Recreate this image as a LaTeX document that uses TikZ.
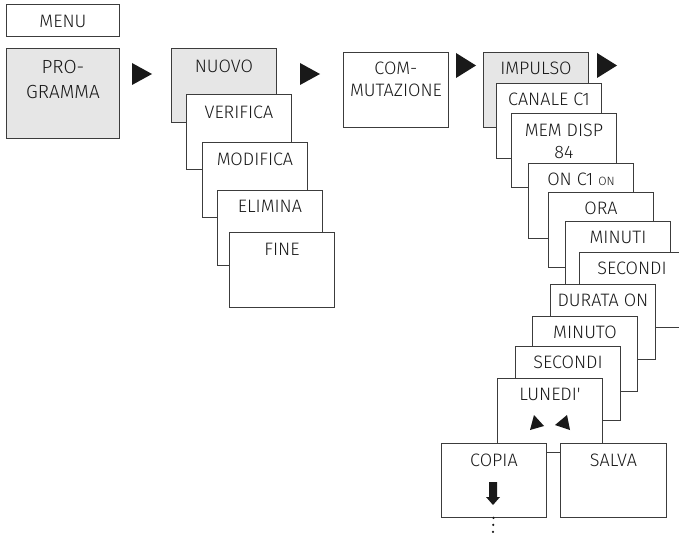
\documentclass[tikz,border=0pt]{standalone}
\usepackage{fontspec}
\setmainfont{Fira Sans}[UprightFont=* Light]
\usetikzlibrary{calc}

\definecolor{boxgray}{RGB}{230,230,230}
\definecolor{boxline}{RGB}{60,60,60}

\tikzset{
  item/.style={draw=boxline, line width=0.9pt, fill=white, anchor=north west,
    inner sep=0pt, minimum width=105pt, minimum height=75pt},
  grayitem/.style={item, fill=boxgray},
  lbl/.style={anchor=north, inner sep=0pt, align=center, text=black!90,
    font=\fontsize{18}{22}\selectfont},
  marker/.style={fill=black!90},
  dots/.style={draw=black!90, line width=2.4pt, line cap=round, dash pattern=on 0pt off 7pt},
}

\begin{document}
\begin{tikzpicture}[x=1pt, y=-1pt]
    \useasboundingbox (0,0) rectangle (679,532);

    \node[item, minimum width=113pt, minimum height=32pt] (menu) at (6,4) {};
    \node[lbl] (menu-t) at ([yshift=-10.5pt]menu.north) {MENU};

    \node[grayitem, minimum width=113pt, minimum height=90pt] (prog) at (6,48) {};
    \node[lbl, font=\fontsize{19}{25}\selectfont] (prog-t) at ([yshift=-12.5pt]prog.north) {PRO-\\GRAMMA};

    \fill[marker] (132,63) -- (152,74) -- (132,85) -- cycle;

    \node[grayitem, minimum height=74pt] (nuovo) at (171,48) {};
    \node[lbl] (nuovo-t) at ([yshift=-11.5pt]nuovo.north) {NUOVO};
    \node[item] (verifica) at (186,94) {};
    \node[lbl] (verifica-t) at ([yshift=-12pt]verifica.north) {VERIFICA};
    \node[item] (modifica) at (202,142) {};
    \node[lbl] (modifica-t) at ([yshift=-11pt]modifica.north) {MODIFICA};
    \node[item] (elimina) at (217,190) {};
    \node[lbl] (elimina-t) at ([yshift=-10pt]elimina.north) {ELIMINA};
    \node[item] (fine) at (229,232) {};
    \node[lbl] (fine-t) at ([yshift=-11pt]fine.north) {FINE};

    \fill[marker] (300,63) -- (320,74) -- (300,85) -- cycle;

    \node[item] (commut) at (343,52) {};
    \node[lbl] (commut-t) at ([yshift=-10pt]commut.north) {COM-\\MUTAZIONE};

    \fill[marker] (456,53) -- (476,65.5) -- (456,78) -- cycle;

    \node[grayitem] (impulso) at (483,52) {};
    \node[lbl] (impulso-t) at ([yshift=-10pt]impulso.north) {IMPULSO};

    \fill[marker] (597,53) -- (617,65.5) -- (597,78) -- cycle;

    \node[item] (canale) at (496,83) {};
    \node[lbl] (canale-t) at ([yshift=-10pt]canale.north) {CANALE C1};
    \node[item, minimum height=74pt] (memdisp) at (511,113) {};
    \node[lbl] (memdisp-t) at ([yshift=-11pt]memdisp.north) {MEM DISP\\84};
    \node[item] (onc) at (528,163) {};
    \node[lbl] (onc-t) at ([yshift=-10pt]onc.north) {ON C1 {\fontsize{12}{14}\selectfont ON}};
    \node[item] (ora) at (548,192) {};
    \node[lbl] (ora-t) at ([yshift=-10pt]ora.north) {ORA};
    \node[item] (minuti) at (565,221) {};
    \node[lbl] (minuti-t) at ([yshift=-10pt]minuti.north) {MINUTI};
    \node[item] (secondi) at (579,252) {};
    \node[lbl] (secondi-t) at ([yshift=-10pt]secondi.north) {SECONDI};
    \node[item] (durata) at (550,284) {};
    \node[lbl] (durata-t) at ([yshift=-10pt]durata.north) {DURATA ON};
    \node[item] (minuto) at (532,316) {};
    \node[lbl] (minuto-t) at ([yshift=-10pt]minuto.north) {MINUTO};
    \node[item, minimum height=74pt] (secondib) at (515,346) {};
    \node[lbl] (secondib-t) at ([yshift=-10pt]secondib.north) {SECONDI};
    \node[item, minimum height=74pt] (lunedi) at (497,378) {};
    \node[lbl] (lunedi-t) at ([yshift=-10pt]lunedi.north) {LUNEDI\textquotesingle};

    \fill[marker] (530,430) -- (534,415) -- (544,426) -- cycle;
    \fill[marker] (555,425) -- (567,415) -- (570,430) -- cycle;

    \node[item, minimum height=74pt] (copia) at (441,443) {};
    \node[lbl] (copia-t) at ([yshift=-11pt]copia.north) {COPIA};
    \node[item, minimum width=106pt, minimum height=74pt] (salva) at (560,443) {};
    \node[lbl] (salva-t) at ([yshift=-11pt]salva.north) {SALVA};

    \fill[marker] (489,482) -- (497,482) -- (497,497) -- (500,497) -- (493,505) -- (486,497) -- (489,497) -- cycle;

    \coordinate (cont) at (493,533);
    \draw[dots] ([xshift=-0.5pt]copia.south) -- (cont);
\end{tikzpicture}
\end{document}
